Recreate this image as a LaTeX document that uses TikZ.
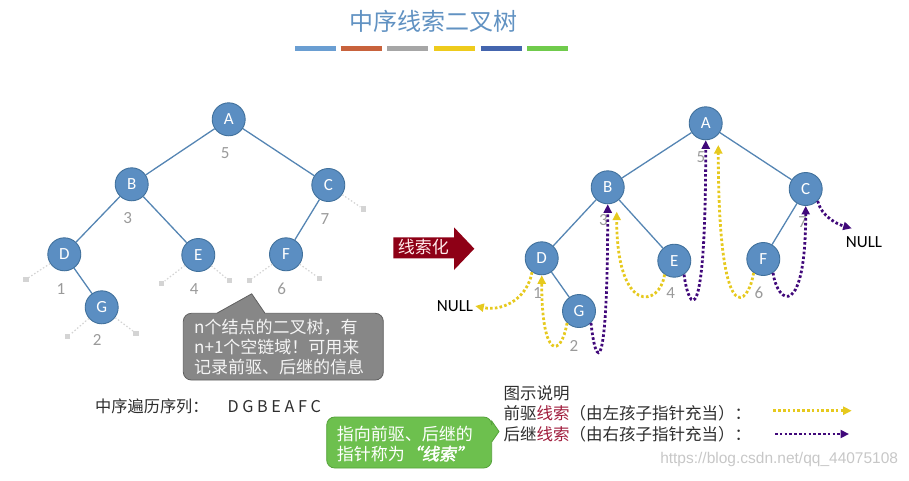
\documentclass[tikz,border=0pt]{standalone}
\usepackage{fontspec}
\setmainfont{Carlito}
\newfontfamily\cjk{Noto Sans CJK SC}
\newfontfamily\cjkem[FakeSlant=0.2,FakeBold=2]{Noto Sans CJK SC}
\newfontfamily\urlfont{Liberation Sans}
\usetikzlibrary{arrows.meta,calc}

\definecolor{nodefill}{HTML}{5B8EC2}
\definecolor{nodeline}{HTML}{41719C}
\definecolor{edgecol}{HTML}{5585B3}
\definecolor{numgray}{HTML}{9A9A9A}
\definecolor{stubgray}{HTML}{D4D4D4}
\definecolor{predcol}{HTML}{E6C91E}
\definecolor{succcol}{HTML}{40087A}
\definecolor{titleblue}{HTML}{6192C2}
\definecolor{arrowred}{HTML}{8E0016}
\definecolor{calloutgray}{HTML}{878787}
\definecolor{calloutedge}{HTML}{606060}
\definecolor{calloutgreen}{HTML}{6DC04E}
\definecolor{greenedge}{HTML}{55A23A}
\definecolor{threadword}{HTML}{A01C3C}
\definecolor{legendtext}{HTML}{2E2E2E}
\definecolor{barblue}{HTML}{6A9ED2}
\definecolor{barorange}{HTML}{C8623C}
\definecolor{bargray}{HTML}{A6A6A6}
\definecolor{baryellow}{HTML}{EECB1C}
\definecolor{bardarkblue}{HTML}{4465AE}
\definecolor{bargreen}{HTML}{70CB4C}

\tikzset{
  tnode/.style={circle, fill=nodefill, draw=nodeline, line width=0.9pt,
    minimum size=33pt, inner sep=0pt, text=white, font=\fontsize{17}{17}\selectfont},
  tedge/.style={draw=edgecol, line width=1.3pt},
  order/.style={text=numgray, font=\fontsize{17}{17}\selectfont, inner sep=0pt},
  stub/.style={draw=stubgray, line width=1.2pt, dash pattern=on 1.5pt off 2pt},
  stubend/.style={fill=stubgray, minimum size=5.5pt, inner sep=0pt},
  thread/.style={line width=2.8pt, line cap=butt, dash pattern=on 2.6pt off 2.2pt,
    -{Triangle[length=8.5pt,width=8pt]}},
  pred/.style={thread, draw=predcol},
  succ/.style={thread, draw=succcol},
  cjktext/.style={font=\cjk\fontsize{17}{20}\selectfont},
  nulltext/.style={font=\fontsize{17}{17}\selectfont, text=black, inner sep=2pt},
  titlebar/.style={line width=4.5pt},
}

\begin{document}
\begin{tikzpicture}[x=1pt,y=-1pt]
\useasboundingbox (0,0) rectangle (909,480);

% ---------- title and colour bars ----------
\node[font=\cjk\fontsize{24}{24}\selectfont, text=titleblue] (title) at (433.3,21.7) {中序线索二叉树};
\draw[titlebar, barblue]     (295,48.3) -- (336,48.3);
\draw[titlebar, barorange]   (340.5,48.3) -- (381.5,48.3);
\draw[titlebar, bargray]     (387,48.3) -- (428,48.3);
\draw[titlebar, baryellow]   (434,48.3) -- (475,48.3);
\draw[titlebar, bardarkblue] (480.5,48.3) -- (521.5,48.3);
\draw[titlebar, bargreen]    (527,48.3) -- (568,48.3);

% ---------- left tree ----------
\node[tnode] (lA) at (228.7,119.3) {A};
\node[tnode] (lB) at (131.7,184.3) {B};
\node[tnode] (lC) at (328.3,185) {C};
\node[tnode] (lD) at (64.3,254.3) {D};
\node[tnode] (lE) at (198.3,255) {E};
\node[tnode] (lF) at (286,254.3) {F};
\node[tnode] (lG) at (101.7,307.3) {G};
\draw[tedge] (lA) -- (lB);
\draw[tedge] (lA) -- (lC);
\draw[tedge] (lB) -- (lD);
\draw[tedge] (lB) -- (lE);
\draw[tedge] (lC) -- (lF);
\draw[tedge] (lD) -- (lG);

% in-order numbers
\node[order] (ln5) at (225.3,153.3) {5};
\node[order] (ln3) at (127.7,217.7) {3};
\node[order] (ln7) at (325,219.3) {7};
\node[order] (ln1) at (61,289.3) {1};
\node[order] (ln4) at (194.3,289.3) {4};
\node[order] (ln6) at (281.7,289.3) {6};
\node[order] (ln2) at (97.3,340) {2};

% empty link fields
\node[stubend] (sDl) at (26,279.3) {};
\node[stubend] (sGl) at (67.7,336.7) {};
\node[stubend] (sGr) at (136,333.3) {};
\node[stubend] (sEl) at (161.7,283.3) {};
\node[stubend] (sEr) at (229.3,280.7) {};
\node[stubend] (sFl) at (249.3,280.7) {};
\node[stubend] (sFr) at (319.3,278.3) {};
\node[stubend] (sCr) at (363.3,209) {};
\draw[stub] (lD) -- (sDl);
\draw[stub] (lG) -- (sGl);
\draw[stub] (lG) -- (sGr);
\draw[stub] (lE) -- (sEl);
\draw[stub] (lE) -- (sEr);
\draw[stub] (lF) -- (sFl);
\draw[stub] (lF) -- (sFr);
\draw[stub] (lC) -- (sCr);

% grey speech bubble
\draw[fill=calloutgray, draw=calloutedge, line width=0.8pt]
  (183.3,321.3) [rounded corners=8pt] -- (183.3,380) -- (383.3,380) -- (383.3,313.3)
  [sharp corners] -- (265,313.3) -- (251.7,293.8) -- (216.7,313.3)
  [rounded corners=8pt] -- (183.3,313.3) -- (183.3,321.3);
\node[cjktext, text=white!96!black, align=left, anchor=west, inner sep=0pt] (note)
  at (194,347.5) {n个结点的二叉树，有\\n+1个空链域！可用来\\记录前驱、后继的信息};

% in-order sequence
\node[font=\cjk\fontsize{16.2}{18}\selectfont, text=legendtext, anchor=west, inner sep=0pt] (seq)
  at (95,406.7) {中序遍历序列：\hspace{19pt}D G B E A F C};

% ---------- red arrow ----------
\fill[arrowred] (393.3,237.3) -- (454,237.3) -- (454,227.3) -- (474.3,248.7)
  -- (454,270) -- (454,258.3) -- (393.3,258.3) -- cycle;
\node[font=\cjk\fontsize{17}{17}\selectfont, text=white!92!red] (thr) at (423.3,247.3) {线索化};

% ---------- right tree ----------
\node[tnode] (rA) at (705.7,123.3) {A};
\node[tnode] (rB) at (607.7,187.3) {B};
\node[tnode] (rC) at (805.7,189) {C};
\node[tnode] (rD) at (541.7,258.3) {D};
\node[tnode] (rE) at (674.3,260.7) {E};
\node[tnode] (rF) at (763.3,259) {F};
\node[tnode] (rG) at (579,311) {G};
\draw[tedge] (rA) -- (rB);
\draw[tedge] (rA) -- (rC);
\draw[tedge] (rB) -- (rD);
\draw[tedge] (rB) -- (rE);
\draw[tedge] (rC) -- (rF);
\draw[tedge] (rD) -- (rG);

\node[order] (rn5) at (701,156.7) {5};
\node[order] (rn3) at (603.3,220) {3};
\node[order] (rn7) at (802.7,221.7) {7};
\node[order] (rn1) at (537.3,292.7) {1};
\node[order] (rn4) at (670.7,292.7) {4};
\node[order] (rn6) at (759,292.7) {6};
\node[order] (rn2) at (574,346) {2};

\node[nulltext] (nullL) at (455,306) {NULL};
\node[nulltext] (nullR) at (864,241.7) {NULL};
\coordinate (pB) at (616.7,211.7);
\coordinate (pA) at (718.3,145);
\coordinate (pNullR) at (851.7,228.3);

% predecessor threads
\draw[pred] (rD.235) .. controls +(-4,24) and +(30,6) .. (nullL.east);
\draw[pred] (rG.225) .. controls +(-6,35) and +(0,85) .. (rD.south);
\draw[pred] (rE.235) .. controls +(-5,33) and +(0,103) .. (pB);
\draw[pred] (rF.235) .. controls +(-5,33) and +(0,190) .. (pA);
% successor threads
\draw[succ] (rG.315) .. controls +(5,47) and +(0,175) .. (rB.south);
\draw[succ] (rE.305) .. controls +(5,37) and +(0,195) .. (rA.south);
\draw[succ] (rF.305) .. controls +(5,33) and +(0,112) .. (rC.south);
\draw[succ] (rC.315) .. controls +(4,16) and +(-14,-4) .. (pNullR);

% ---------- green speech bubble ----------
\draw[fill=calloutgreen, draw=greenedge, line width=0.8pt]
  (326.7,430) [rounded corners=8pt] -- (326.7,468) -- (491.7,468)
  [sharp corners] -- (491.7,442) -- (499,431.5) -- (491.7,421)
  [rounded corners=8pt] -- (491.7,417) -- (326.7,417) -- (326.7,430);
\node[cjktext, text=white, align=left, anchor=west, inner sep=0pt] (greennote)
  at (336.7,443.7) {指向前驱、后继的\\指针称为{\cjkem “线索”}};

% ---------- legend ----------
\node[font=\cjk\fontsize{16.5}{18}\selectfont, text=legendtext, anchor=west, inner sep=0pt] (lgtitle)
  at (503.3,393.3) {图示说明};
\node[font=\cjk\fontsize{16.5}{18}\selectfont, text=legendtext, anchor=west, inner sep=0pt] (lgpred)
  at (503.3,413.3) {前驱\textcolor{threadword}{线索}（由左孩子指针充当）：};
\node[font=\cjk\fontsize{16.5}{18}\selectfont, text=legendtext, anchor=west, inner sep=0pt] (lgsucc)
  at (503.3,434.3) {后继\textcolor{threadword}{线索}（由右孩子指针充当）：};
\coordinate (lpa) at (773.3,410.7);
\coordinate (lpb) at (851.7,410.7);
\coordinate (lsa) at (775,434);
\coordinate (lsb) at (849,434);
\draw[pred] (lpa) -- (lpb);
\draw[succ] (lsa) -- (lsb);

% ---------- source mark ----------
\node[font=\urlfont\fontsize{15.5}{16}\selectfont, text=black!22, anchor=east, inner sep=0pt] (src)
  at (898.3,459.3) {https://blog.csdn.net/qq\_44075108};
\end{tikzpicture}
\end{document}
